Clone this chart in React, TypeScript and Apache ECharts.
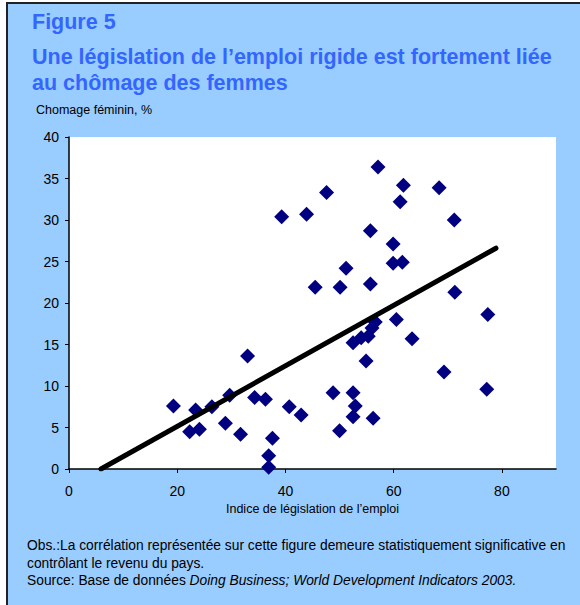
import React, { useEffect, useRef } from "react";
import * as echarts from "echarts";

const FONT = "'Liberation Sans', Arial, sans-serif";
const TITLE_COLOR = "#3366FF";

const figureLabel = "Figure 5";
const titleLines = [
  "Une législation de l’emploi rigide est fortement liée",
  "au chômage des femmes",
];
const yAxisName = "Chomage féminin, %";
const xAxisName = "Indice de législation de l’emploi";
const noteLines = [
  "Obs.:La corrélation représentée sur cette figure demeure statistiquement significative en",
  "contrôlant le revenu du pays.",
];
const sourcePlain = "Source: Base de données ";
const sourceItalic = "Doing Business; World Development Indicators 2003.";

const xTicks = [0, 20, 40, 60, 80];

// Employment legislation index (x) and female unemployment % (y)
const legislationIndex = [
  19.3, 22.3, 23.4, 24.1, 26.4, 28.9, 29.7, 31.7, 33.0, 34.3,
  36.3, 37.6, 36.9, 36.9, 40.7, 42.9, 39.3, 43.9, 45.5, 47.6,
  48.8, 50.1, 51.2, 50.0, 52.5, 52.9, 52.5, 56.2, 54.9, 52.5,
  54.0, 55.3, 56.0, 56.6, 60.5, 63.4, 69.3, 77.2, 77.4, 71.3,
  55.7, 59.9, 61.6, 59.9, 55.7, 61.2, 61.8, 57.1, 68.4, 71.2,
];
const femaleUnemployment = [
  7.6, 4.5, 7.1, 4.8, 7.5, 5.5, 8.9, 4.2, 13.6, 8.6,
  8.4, 3.7, 1.6, 0.2, 7.5, 6.5, 30.4, 30.7, 21.9, 33.3,
  9.2, 21.9, 24.2, 4.6, 9.2, 7.6, 6.3, 6.1, 13.0, 15.2,
  15.8, 16.0, 17.0, 17.7, 18.0, 15.7, 11.7, 9.6, 18.6, 21.3,
  22.3, 24.8, 24.9, 27.1, 28.7, 32.2, 34.2, 36.4, 33.9, 30.0,
];
// Fitted trend line end points
const trendX = [5.9, 78.9];
const trendY = [0, 26.6];

export default function App() {
  const ref = useRef<HTMLDivElement>(null);

  useEffect(() => {
    if (!ref.current) return;
    const chart = echarts.init(ref.current, undefined, { renderer: "svg" });
    const points = legislationIndex.map((x, i) => [x, femaleUnemployment[i]]);
    const trend = trendX.map((x, i) => [x, trendY[i]]);

    chart.setOption({
      animation: false,
      backgroundColor: "#ffffff",
      textStyle: { fontFamily: FONT },
      title: [
        {
          text: figureLabel,
          left: 27,
          top: 4,
          textStyle: {
            fontFamily: FONT,
            fontSize: 21.5,
            fontWeight: "bold",
            color: TITLE_COLOR,
            lineHeight: 26,
          },
        },
        {
          text: titleLines.join("\n"),
          left: 27,
          top: 39,
          textStyle: {
            fontFamily: FONT,
            fontSize: 21.5,
            fontWeight: "bold",
            color: TITLE_COLOR,
            lineHeight: 26,
          },
        },
      ],
      grid: {
        left: 69,
        top: 137,
        right: 24,
        bottom: 136,
        show: true,
        backgroundColor: "#ffffff",
        borderWidth: 0,
        containLabel: false,
      },
      graphic: [
        {
          type: "rect",
          z: -10,
          shape: { x: 7, y: 3, width: 590, height: 620 },
          style: { fill: "#99CCFF", stroke: "#222222", lineWidth: 2 },
        },
        {
          type: "text",
          x: 36,
          y: 110,
          style: {
            text: yAxisName,
            fontFamily: FONT,
            fontSize: 12.5,
            fill: "#000000",
            verticalAlign: "middle",
          },
        },
        {
          type: "text",
          x: 27,
          y: 537,
          style: {
            text: noteLines.join("\n"),
            fontFamily: FONT,
            fontSize: 13.8,
            lineHeight: 17.5,
            fill: "#000000",
            verticalAlign: "top",
          },
        },
        {
          type: "text",
          x: 27,
          y: 580,
          style: {
            text: "{n|" + sourcePlain + "}{i|" + sourceItalic + "}",
            fontFamily: FONT,
            fontSize: 13.8,
            fill: "#000000",
            verticalAlign: "middle",
            rich: {
              n: { fontFamily: FONT, fontSize: 13.8, fill: "#000000" },
              i: { fontFamily: FONT, fontSize: 13.8, fontStyle: "italic", fill: "#000000" },
            },
          },
        },
      ],
      xAxis: {
        type: "value",
        min: 0,
        max: 90,
        interval: 20,
        name: xAxisName,
        nameLocation: "middle",
        nameGap: 33,
        nameTextStyle: { fontFamily: FONT, fontSize: 12.5, color: "#000000" },
        axisLine: { show: true, lineStyle: { color: "#000000", width: 1.5 } },
        axisTick: { show: true, length: 4, customValues: xTicks, lineStyle: { color: "#000000" } },
        axisLabel: {
          customValues: xTicks,
          margin: 15,
          fontFamily: FONT,
          fontSize: 14,
          color: "#000000",
        },
        splitLine: { show: false },
      },
      yAxis: {
        type: "value",
        min: 0,
        max: 40,
        interval: 5,
        axisLine: { show: true, lineStyle: { color: "#000000", width: 1.5 } },
        axisTick: { show: true, length: 4, lineStyle: { color: "#000000" } },
        axisLabel: { margin: 10, fontFamily: FONT, fontSize: 14, color: "#000000" },
        splitLine: { show: false },
      },
      series: [
        {
          type: "scatter",
          data: points,
          symbol: "diamond",
          symbolSize: 15,
          itemStyle: { color: "#000080", opacity: 1 },
          z: 2,
        },
        {
          type: "line",
          data: trend,
          symbol: "none",
          lineStyle: { color: "#000000", width: 5, cap: "round" },
          z: 3,
        },
      ],
    });

    return () => chart.dispose();
  }, []);

  return (
    <div
      ref={ref}
      style={{ position: "absolute", left: 0, top: 0, width: 580, height: 605 }}
    />
  );
}
